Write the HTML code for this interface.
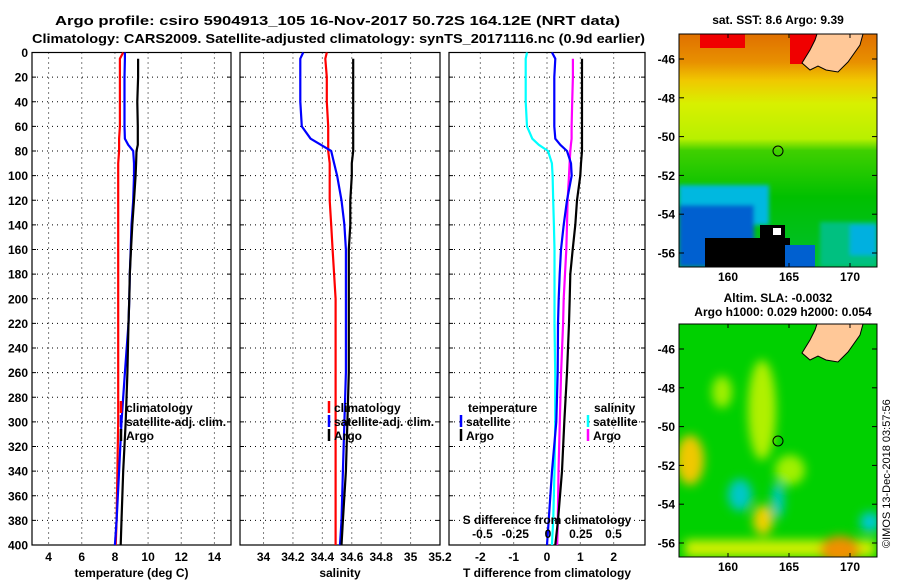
<!DOCTYPE html>
<html><head><meta charset="utf-8"><style>
html,body{margin:0;padding:0;background:#fff;}
svg{display:block;font-family:"Liberation Sans",Arial,sans-serif;font-weight:bold;}
</style></head><body>
<svg id="fig" width="900" height="580" viewBox="0 0 900 580" xmlns="http://www.w3.org/2000/svg">
<rect width="900" height="580" fill="#fff"/>
<text x="55" y="25" font-size="13" textLength="565" lengthAdjust="spacingAndGlyphs">Argo profile: csiro 5904913_105 16-Nov-2017 50.72S 164.12E (NRT data)</text>
<text x="32" y="43" font-size="13" textLength="613" lengthAdjust="spacingAndGlyphs">Climatology: CARS2009. Satellite-adjusted climatology: synTS_20171116.nc (0.9d earlier)</text>

<g id="maps">
 <defs>
  <linearGradient id="sstg" x1="0" y1="0" x2="0" y2="1">
   <stop offset="0" stop-color="#e07000"/><stop offset="0.12" stop-color="#e89000"/>
   <stop offset="0.2" stop-color="#f0c800"/><stop offset="0.3" stop-color="#d8f000"/>
   <stop offset="0.45" stop-color="#b8f000"/><stop offset="0.5" stop-color="#40d000"/>
   <stop offset="0.7" stop-color="#00c000"/><stop offset="1" stop-color="#00c030"/>
  </linearGradient>
  <clipPath id="c1"><rect x="679" y="34" width="198" height="233"/></clipPath>
  <clipPath id="c2"><rect x="679" y="324" width="198" height="233"/></clipPath>
  <filter id="bl"><feGaussianBlur stdDeviation="5"/></filter>
  <filter id="bl2"><feGaussianBlur stdDeviation="2"/></filter>
 </defs>
 <g clip-path="url(#c1)">
  <rect x="679" y="34" width="198" height="233" fill="url(#sstg)"/>
  <rect x="700" y="34" width="45" height="14" fill="#f00000"/>
  <rect x="790" y="34" width="30" height="30" fill="#f00000"/>
  <g filter="url(#bl2)">
  <rect x="679" y="185" width="90" height="40" fill="#00b8e0"/>
  <rect x="679" y="205" width="75" height="62" fill="#0060d0"/>
  <rect x="820" y="222" width="57" height="45" fill="#00c080"/>
  <rect x="850" y="225" width="27" height="30" fill="#00b0e0"/>
  </g>
  <rect x="705" y="238" width="85" height="29" fill="#000"/>
  <rect x="760" y="225" width="25" height="20" fill="#000"/>
  <rect x="785" y="245" width="30" height="22" fill="#0060d0"/>
  <rect x="773" y="228" width="8" height="7" fill="#fff"/>
 </g>
 <g clip-path="url(#c2)">
  <rect x="679" y="324" width="198" height="233" fill="#00d000"/>
  <g filter="url(#bl)">
   <ellipse cx="722" cy="392" rx="10" ry="16" fill="#a0f000"/>
   <ellipse cx="762" cy="410" rx="14" ry="50" fill="#b0f000"/>
   <ellipse cx="690" cy="460" rx="14" ry="25" fill="#f0c800"/>
   <ellipse cx="790" cy="470" rx="15" ry="15" fill="#a0f000"/>
   <ellipse cx="740" cy="495" rx="12" ry="16" fill="#00c8c8"/>
   <ellipse cx="778" cy="500" rx="6" ry="18" fill="#00c8c8"/>
   <ellipse cx="870" cy="522" rx="10" ry="10" fill="#00c8d8"/>
   <ellipse cx="763" cy="520" rx="10" ry="15" fill="#f0d000"/>
   <rect x="685" y="540" width="190" height="17" fill="#d0f000"/>
   <ellipse cx="840" cy="550" rx="20" ry="14" fill="#f09000"/>
  </g>
 </g>
 <polygon points="817,34 863,34 860,45 848,62 838,72 826,70 818,66 810,70 802,63 810,50 815,40" fill="#ffc898" stroke="#000" stroke-width="1"/>
 <polygon points="817,324 863,324 860,335 848,352 838,362 826,360 818,356 810,360 802,353 810,340 815,330" fill="#ffc898" stroke="#000" stroke-width="1"/>
 <circle cx="778" cy="151" r="5" fill="none" stroke="#000"/>
 <circle cx="778" cy="441" r="5" fill="none" stroke="#000"/>
 <rect x="679" y="34" width="198" height="233" fill="none" stroke="#000"/>
 <rect x="679" y="324" width="198" height="233" fill="none" stroke="#000"/>
 <text x="778" y="24" font-size="12" text-anchor="middle">sat. SST: 8.6 Argo: 9.39</text>
 <text x="778" y="302" font-size="12" text-anchor="middle">Altim. SLA: -0.0032</text>
 <text x="783" y="316" font-size="12" text-anchor="middle">Argo h1000: 0.029 h2000: 0.054</text>
 <text transform="translate(890,548) rotate(-90)" font-size="11" font-weight="normal">©IMOS 13-Dec-2018 03:57:56</text>
</g>

<g id="panels"></g>
</svg>
<script>
const depths = [0,5,20,40,60,70,75,80,90,100,120,140,160,180,200,220,260,300,340,380,400];
const tempClim = [8.5,8.3,8.3,8.3,8.3,8.25,8.25,8.25,8.2,8.2,8.2,8.2,8.2,8.2,8.2,8.2,8.2,8.2,8.15,8.1,8.05];
const tempSat = [8.6,8.6,8.58,8.58,8.58,8.6,8.8,9.1,9.15,9.15,9.1,9.0,8.95,8.9,8.87,8.82,8.6,8.4,8.25,8.1,8.0];
const tempArgo = [null,9.4,9.4,9.35,9.38,9.38,9.38,9.3,9.28,9.25,9.15,9.05,8.97,8.9,8.87,8.82,8.75,8.65,8.5,8.4,8.35];
const salClim = [34.43,34.42,34.43,34.43,34.44,34.44,34.44,34.44,34.45,34.45,34.45,34.46,34.47,34.48,34.49,34.49,34.49,34.49,34.49,34.49,34.49];
const salSat = [34.27,34.25,34.25,34.25,34.26,34.32,34.39,34.46,34.48,34.5,34.53,34.55,34.56,34.56,34.56,34.56,34.56,34.55,34.54,34.53,34.52];
const salArgo = [null,34.61,34.61,34.61,34.61,34.61,34.61,34.61,34.6,34.6,34.59,34.59,34.58,34.58,34.58,34.58,34.58,34.57,34.56,34.54,34.53];
const dTSat = [0.15,0.25,0.22,0.22,0.22,0.25,0.4,0.6,0.72,0.74,0.6,0.5,0.42,0.38,0.35,0.33,0.32,0.28,0.15,0.05,0];
const dTArgo = [null,1.05,1.05,1.05,1.05,1.05,1.05,1.05,1.02,1.0,0.9,0.85,0.77,0.7,0.68,0.66,0.6,0.52,0.45,0.33,0.25];
const dSSat = [-0.16,-0.17,-0.17,-0.17,-0.16,-0.12,-0.07,0,0.03,0.035,0.04,0.045,0.05,0.05,0.05,0.05,0.055,0.055,0.05,0.04,0.03];
const dSArgo = [null,0.19,0.19,0.185,0.18,0.18,0.175,0.17,0.165,0.16,0.15,0.145,0.14,0.13,0.12,0.115,0.1,0.09,0.08,0.075,0.07];
const depthTicks = [0,20,40,60,80,100,120,140,160,180,200,220,240,260,280,300,320,340,360,380,400];
const tempTicks = [4,6,8,10,12,14];
const salTicks = [34,34.2,34.4,34.6,34.8,35,35.2];
const salTickLabels = ["34","34.2","34.4","34.6","34.8","35","35.2"];
const dTTicks = [-2,-1,0,1,2];
const dSTicks = [-0.5,-0.25,0,0.25,0.5];
const dSTickLabels = ["-0.5","-0.25","0","0.25","0.5"];

const NS="http://www.w3.org/2000/svg";
const root=document.getElementById('panels');
const Y0=52.5, Y1=545;
function yS(d){return Y0+(d/400)*(Y1-Y0);}
function mk(tag,attrs,parent){const e=document.createElementNS(NS,tag);for(const k in attrs)e.setAttribute(k,attrs[k]);(parent||root).appendChild(e);return e;}
function txt(x,y,s,size,anchor,fill,parent){const t=mk('text',{x:x,y:y,'font-size':size,'text-anchor':anchor||'start',fill:fill||'#000'},parent);t.textContent=s;return t;}

const panels=[
 {name:'temperature-panel',x0:32,x1:231,min:3,max:15,ticks:tempTicks,labels:tempTicks.map(String),title:'temperature (deg C)'},
 {name:'salinity-panel',x0:240,x1:440,min:33.84,max:35.2,ticks:salTicks,labels:salTickLabels,title:'salinity'},
 {name:'difference-panel',x0:449,x1:645,min:-2.94,max:2.94,ticks:dTTicks,labels:dTTicks.map(String),title:'T difference from climatology'}
];
panels.forEach((p,i)=>{
 const g=mk('g',{});
 
 
 p.g=g;
 p.xs=v=>p.x0+(v-p.min)/(p.max-p.min)*(p.x1-p.x0);
 depthTicks.forEach(d=>{
  if(d>0&&d<400){const l=mk('line',{x1:p.x0,x2:p.x1,y1:yS(d),y2:yS(d),stroke:'#000','stroke-width':1,'stroke-dasharray':'1,4'},g);
  
  }
  mk('line',{x1:p.x0,x2:p.x0+4,y1:yS(d),y2:yS(d),stroke:'#000'},g);
  mk('line',{x1:p.x1,x2:p.x1-4,y1:yS(d),y2:yS(d),stroke:'#000'},g);
  if(i===0){const t=txt(28,yS(d)+4.5,String(d),12,'end','#000',g);
   
   }
 });
 p.ticks.forEach((v,k)=>{
  const x=p.xs(v);
  if(x>p.x0+1&&x<p.x1-1){mk('line',{x1:x,x2:x,y1:Y0,y2:Y1,stroke:'#000','stroke-dasharray':'1,4'},g);}
  const t=txt(x,561,p.labels[k],12,'middle','#000',g);
  
  
 });
 mk('rect',{x:p.x0,y:Y0,width:p.x1-p.x0,height:Y1-Y0,fill:'none',stroke:'#000','stroke-width':1.2},g);
 const at=txt((p.x0+p.x1)/2,577,p.title,12,'middle','#000',g);
 
 
});

function line(p,vals,color,name,xs){
 let pts=[];
 for(let k=0;k<depths.length;k++){
  if(vals[k]===null)continue;
  pts.push(xs(vals[k]).toFixed(1)+','+yS(depths[k]).toFixed(1));
 }
 const l=mk('polyline',{points:pts.join(' '),fill:'none',stroke:color,'stroke-width':2.2,'stroke-linejoin':'round'},p.g);
 
 
}
const P=panels;
line(P[0],tempClim,'#ff0000','temp-climatology-line',P[0].xs);
line(P[0],tempSat,'#0000ff','temp-satellite-line',P[0].xs);
line(P[0],tempArgo,'#000','temp-argo-line',P[0].xs);
line(P[1],salClim,'#ff0000','sal-climatology-line',P[1].xs);
line(P[1],salSat,'#0000ff','sal-satellite-line',P[1].xs);
line(P[1],salArgo,'#000','sal-argo-line',P[1].xs);
const sx=v=>548+v*131;
line(P[2],dSSat,'#00ffff','sdiff-satellite-line',sx);
line(P[2],dSArgo,'#ff00ff','sdiff-argo-line',sx);
line(P[2],dTSat,'#0000ff','tdiff-satellite-line',P[2].xs);
line(P[2],dTArgo,'#000','tdiff-argo-line',P[2].xs);

const sdt=txt(547,524,'S difference from climatology',12,'middle','#000',P[2].g);


dSTicks.forEach((v,k)=>{
 const t=txt(sx(v),538,dSTickLabels[k],12,'middle','#000',P[2].g);
 
 
});

function legend(g,x,y,color,label,name){
 const e=mk('g',{},g);
 
 
 mk('line',{x1:x,x2:x,y1:y-11,y2:y+1,stroke:color,'stroke-width':2.5},e);
 txt(x+5,y,label,12,'start','#000',e);
}
legend(P[0].g,121,412,'#ff0000','climatology','legend-climatology');
legend(P[0].g,121,426,'#0000ff','satellite-adj. clim.','legend-satellite-adj');
legend(P[0].g,121,440,'#000','Argo','legend-argo');
legend(P[1].g,329,412,'#ff0000','climatology','legend-sal-climatology');
legend(P[1].g,329,426,'#0000ff','satellite-adj. clim.','legend-sal-satellite-adj');
legend(P[1].g,329,440,'#000','Argo','legend-sal-argo');
const lt=txt(468,412,'temperature',12,'start','#000',P[2].g);


legend(P[2].g,461,426,'#0000ff','satellite','legend-t-satellite');
legend(P[2].g,461,440,'#000','Argo','legend-t-argo');
const ls=txt(594,412,'salinity',12,'start','#000',P[2].g);


legend(P[2].g,588,426,'#00ffff','satellite','legend-s-satellite');
legend(P[2].g,588,440,'#ff00ff','Argo','legend-s-argo');

const mapG=document.getElementById('maps');
const mapLats=[-46,-48,-50,-52,-54,-56];
const mapLons=[160,165,170];
[[34,281],[324,571]].forEach(([top,lab],m)=>{
 mapLats.forEach(v=>{
  const y=top+25+(-46-v)*19.4;
  mk('line',{x1:679,x2:684,y1:y,y2:y,stroke:'#000'},mapG);
  mk('line',{x1:872,x2:877,y1:y,y2:y,stroke:'#000'},mapG);
  const t=txt(675,y+4.5,String(v),12,'end','#000',mapG);
  
  
 });
 mapLons.forEach(v=>{
  const x=728+(v-160)*12.2;
  mk('line',{x1:x,x2:x,y1:top,y2:top+4,stroke:'#000'},mapG);
  mk('line',{x1:x,x2:x,y1:top+233,y2:top+229,stroke:'#000'},mapG);
  const t=txt(x,lab,String(v),12,'middle','#000',mapG);
  
  
 });
});
</script>
</body></html>
